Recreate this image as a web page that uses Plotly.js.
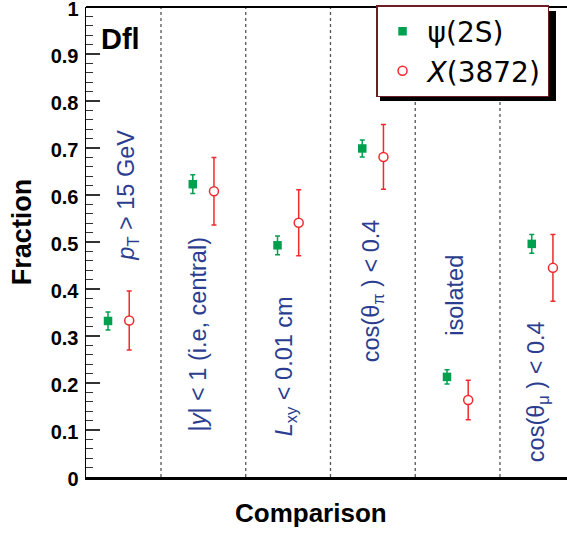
<!DOCTYPE html>
<html>
<head>
<meta charset="utf-8">
<script src="https://cdn.plot.ly/plotly-3.0.1.min.js"></script>
<style>html,body{margin:0;padding:0;background:#fff;}#chart{width:567px;height:534px;}</style>
</head>
<body>
<div id="chart"></div>
<script>
// ---- data ----
const categories = [
  "<i>p</i><sub>T</sub> &gt; 15 GeV",
  "|<i>y</i>| &lt; 1 (i.e, central)",
  "<i>L</i><sub>xy</sub> &lt; 0.01 cm",
  "cos(θ<sub>π</sub> ) &lt; 0.4",
  "isolated",
  "cos(θ<sub>μ</sub> ) &lt; 0.4"
];
const psiVal = [0.332, 0.623, 0.493, 0.699, 0.213, 0.496];
const psiErr = [0.019, 0.020, 0.020, 0.018, 0.015, 0.020];
const xVal   = [0.333, 0.608, 0.541, 0.681, 0.164, 0.445];
const xErr   = [0.063, 0.072, 0.070, 0.069, 0.042, 0.071];
const yTicks = [0, 0.1, 0.2, 0.3, 0.4, 0.5, 0.6, 0.7, 0.8, 0.9, 1];

const idx = categories.map((_, i) => i);
const green = "#00a04f", red = "#ee2a2e", blue = "#2b3d8f";
const font = "Liberation Sans, Arial, Helvetica, sans-serif";

// layout: where each rotated category label sits (offset from its group, centre height)
const labelDx = [0.22, 0.06, 0.09, 0.125, 0.09, 0.07];
const labelCy = [0.600, 0.303, 0.236, 0.397, 0.387, 0.182];

const traces = [
  {
    type: "scatter", mode: "markers", name: "ψ(2S)", legendgroup: "a",
    x: idx, y: psiVal,
    error_y: {type: "data", array: psiErr, visible: true, color: green, thickness: 1.5, width: 2.5},
    marker: {symbol: "square", size: 8.5, color: green}
  },
  {
    type: "scatter", mode: "markers", name: "<i>X</i>(3872)", legendgroup: "b",
    x: idx.map(i => i + 0.25), y: xVal,
    error_y: {type: "data", array: xErr, visible: true, color: red, thickness: 1.5, width: 2.5},
    marker: {symbol: "circle", size: 9, color: "#ffffff", line: {color: red, width: 1.5}}
  }
];

const shapes = [];
for (let i = 0; i < categories.length - 1; i++) {
  shapes.push({type: "line", xref: "x", yref: "paper", x0: i + 0.625, x1: i + 0.625, y0: 0, y1: 1,
    line: {color: "#555", width: 1.3, dash: "3px,3px"}, layer: "below"});
}
// top frame line
shapes.push({type: "line", xref: "paper", yref: "paper", x0: 0, x1: 1, y0: 1, y1: 1,
  line: {color: "#000", width: 2}, layer: "above"});
// legend drop shadow
shapes.push({type: "rect", xref: "paper", yref: "paper", x0: 0.6112, x1: 0.9771, y0: 0.800, y1: 0.9915,
  fillcolor: "#000", line: {width: 0}, layer: "above"});

const annotations = categories.map((c, i) => ({
  text: c, x: i + labelDx[i], y: labelCy[i], xref: "x", yref: "y", showarrow: false,
  xanchor: "center", yanchor: "middle",
  textangle: -90, font: {family: font, size: 23.5, color: blue}
}));
annotations.push({text: "<b>Dfl</b>", xref: "paper", yref: "paper", x: 0.0707, y: 0.932,
  xanchor: "center", yanchor: "middle",
  showarrow: false, font: {family: font, size: 29, color: "#000"}});
annotations.push({text: "<b>Fraction</b>", xref: "paper", yref: "paper", x: -0.133, y: 0.521,
  xanchor: "center", yanchor: "middle",
  showarrow: false, textangle: -90, font: {family: font, size: 27, color: "#000"}});
annotations.push({text: "<b>Comparison</b>", xref: "paper", yref: "paper", x: 0.4688, y: -0.0766,
  xanchor: "center", yanchor: "middle",
  showarrow: false, font: {family: font, size: 26, color: "#000"}});

const layout = {
  width: 567, height: 534,
  margin: {l: 86, r: 0, t: 7, b: 57, pad: 0},
  paper_bgcolor: "#fff", plot_bgcolor: "#fff",
  font: {family: font, color: "#000"},
  showlegend: true,
  legend: {
    x: 0.603, y: 1.004, xanchor: "left", yanchor: "top",
    bgcolor: "#fff", bordercolor: "#6b1f22", borderwidth: 1.5,
    font: {family: "DejaVu Sans, Liberation Sans, sans-serif", size: 28, color: "#000"},
    tracegroupgap: 0, traceorder: "grouped", itemwidth: 40
  },
  xaxis: {
    range: [-0.26, 5.416], showgrid: false, zeroline: false,
    showticklabels: false, ticks: "",
    showline: true, linecolor: "#000", linewidth: 2.5, mirror: false
  },
  yaxis: {
    range: [0, 1], tickmode: "array", tickvals: yTicks, ticktext: yTicks.map(String),
    showgrid: false, zeroline: false,
    ticks: "inside", ticklen: 14, tickwidth: 1.3, tickcolor: "#333",
    minor: {dtick: 0.02, ticks: "inside", ticklen: 7, tickwidth: 1, tickcolor: "#333", showgrid: false},
    showline: true, linecolor: "#000", linewidth: 1.5,
    tickfont: {family: font, size: 20, color: "#000", weight: "bold"},
    ticklabelstandoff: 2, ticklabeloverflow: "allow", ticklabelshift: 2
  },
  shapes: shapes,
  annotations: annotations
};

Plotly.newPlot("chart", traces, layout, {displayModeBar: false, staticPlot: true});
</script>
</body>
</html>
